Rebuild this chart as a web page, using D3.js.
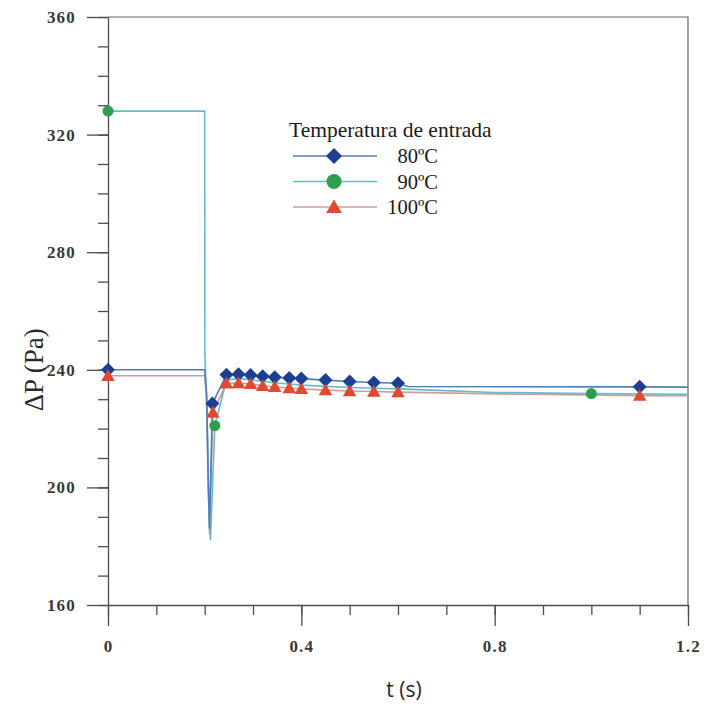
<!DOCTYPE html>
<html>
<head>
<meta charset="utf-8">
<script src="https://cdn.jsdelivr.net/npm/d3@7"></script>
<style>
  html, body { margin: 0; padding: 0; background: #fff; }
  svg { display: block; }
</style>
</head>
<body>
<svg id="chart" width="704" height="704"></svg>
<script>
// Pressure drop vs time for three inlet temperatures
const t80  = [0, 0.2, 0.204, 0.207, 0.21, 0.216, 0.245, 0.27, 0.295, 0.32, 0.345, 0.375, 0.40, 0.45, 0.50, 0.55, 0.60, 0.62, 1.1, 1.2];
const dp80 = [240, 240, 232, 205, 186, 228.5, 238.3, 238.5, 238.2, 237.8, 237.5, 237.2, 237.0, 236.5, 236.0, 235.7, 235.4, 234.3, 234.2, 234.1];
const mk80 = [0, 0.216, 0.245, 0.27, 0.295, 0.32, 0.345, 0.375, 0.40, 0.45, 0.50, 0.55, 0.60, 1.1];

const t90  = [0, 0.2, 0.2005, 0.205, 0.209, 0.212, 0.221, 0.245, 0.27, 0.30, 0.35, 0.40, 0.50, 0.60, 0.80, 1.0, 1.2];
const dp90 = [328, 328, 245, 225, 190, 182, 221, 236.5, 237, 236.5, 235.5, 234.8, 234.0, 233.5, 232.3, 231.9, 231.7];
const mk90 = [0, 0.221, 1.0];

const t100  = [0, 0.2, 0.204, 0.207, 0.21, 0.217, 0.245, 0.27, 0.295, 0.32, 0.345, 0.375, 0.40, 0.45, 0.50, 0.55, 0.60, 0.8, 1.1, 1.2];
const dp100 = [238, 238, 230, 205, 184, 225.5, 235.4, 235.5, 235.2, 234.6, 234.2, 233.8, 233.5, 233.1, 232.8, 232.6, 232.4, 231.8, 231.2, 231.2];
const mk100 = [0, 0.217, 0.245, 0.27, 0.295, 0.32, 0.345, 0.375, 0.40, 0.45, 0.50, 0.55, 0.60, 1.1];

const seriesNames = ["80ºC", "90ºC", "100ºC"];
const xMajor = [0, 0.4, 0.8, 1.2];
const yMajor = [160, 200, 240, 280, 320, 360];

const svg = d3.select("#chart");
const x = d3.scaleLinear().domain([0, 1.2]).range([108, 688]);
const y = d3.scaleLinear().domain([160, 360]).range([605, 17]);

const axisColor = "#4d4d4d";
const serif = "'Liberation Serif', 'Times New Roman', serif";

// frame (top and right)
svg.append("path")
  .attr("d", `M${x(0)},${y(360)}H${x(1.2)}V${y(160)}`)
  .attr("fill", "none").attr("stroke", "#666").attr("stroke-width", 1.2);

// minor ticks
const xMinor = d3.range(0, 1.2001, 0.1).map(v => +v.toFixed(2));
const yMinor = d3.range(160, 360.001, 10);
svg.append("g").attr("transform", `translate(0,${y(160)})`)
  .call(d3.axisBottom(x).tickValues(xMinor).tickSize(10).tickFormat(""))
  .call(g => g.select(".domain").remove());
svg.append("g").attr("transform", `translate(${x(0)},0)`)
  .call(d3.axisLeft(y).tickValues(yMinor).tickSize(10).tickFormat(""))
  .call(g => g.select(".domain").remove());

// major axes
svg.append("g").attr("transform", `translate(0,${y(160)})`)
  .call(d3.axisBottom(x).tickValues(xMajor).tickSize(21).tickSizeOuter(0).tickPadding(14)
    .tickFormat(d => d === 0 ? "0" : d3.format(".1f")(d)));
svg.append("g").attr("transform", `translate(${x(0)},0)`)
  .call(d3.axisLeft(y).tickValues(yMajor).tickSize(21).tickSizeOuter(0).tickPadding(11));

svg.selectAll(".tick line, .domain").attr("stroke", axisColor).attr("stroke-width", 1.3);
svg.selectAll(".tick text")
  .attr("font-family", serif).attr("font-size", 17).attr("font-weight", 600)
  .attr("letter-spacing", 1.2).attr("fill", "#383838");

// axis titles
svg.append("text")
  .attr("transform", `translate(43,${y(240)}) rotate(-90)`)
  .attr("text-anchor", "middle")
  .attr("font-family", serif).attr("font-size", 27).attr("fill", "#2a2a2a")
  .text("ΔP (Pa)");
svg.append("text")
  .attr("x", 404).attr("y", 697)
  .attr("text-anchor", "middle")
  .attr("font-family", "'Open Sans', 'DejaVu Sans', sans-serif").attr("font-size", 21).attr("fill", "#2a2a2a")
  .text("t (s)");

// series
const series = [
  { t: t80, p: dp80, mk: mk80, line: "#4f7fb8", fill: "#1d3f93", shape: "diamond" },
  { t: t90, p: dp90, mk: mk90, line: "#62bccb", fill: "#2f9d4e", shape: "circle" },
  { t: t100, p: dp100, mk: mk100, line: "#d49b9b", fill: "#e04a33", shape: "triangle" }
];

const line = d3.line().x(d => x(d[0])).y(d => y(d[1]));

function shapePath(shape, s) {
  if (shape === "diamond") return `M0,${-s}L${s},0L0,${s}L${-s},0Z`;
  if (shape === "triangle") return `M0,${-s}L${s * 1.05},${s * 0.8}L${-s * 1.05},${s * 0.8}Z`;
  return d3.symbol(d3.symbolCircle, Math.PI * s * s)();
}
const markerSize = { diamond: 7, circle: 5.5, triangle: 6.5 };

// lines: red, teal, blue
[2, 1, 0].forEach(i => {
  const s = series[i];
  svg.append("path")
    .datum(s.t.map((v, k) => [v, s.p[k]]))
    .attr("d", line)
    .attr("fill", "none")
    .attr("stroke", s.line)
    .attr("stroke-width", 1.6);
});

// markers: green, blue, red
[1, 0, 2].forEach(i => {
  const s = series[i];
  const pts = s.mk.map(tm => [tm, s.p[s.t.indexOf(tm)]]);
  svg.append("g").selectAll("path").data(pts).join("path")
    .attr("transform", d => `translate(${x(d[0])},${y(d[1])})`)
    .attr("d", shapePath(s.shape, markerSize[s.shape]))
    .attr("fill", s.fill);
});

// legend
const lg = svg.append("g");
lg.append("text").attr("x", 289).attr("y", 137)
  .attr("font-family", serif).attr("font-size", 21.5).attr("fill", "#1a1a1a")
  .text("Temperatura de entrada");
const legendSize = { diamond: 8, circle: 7.5, triangle: 7.5 };
series.forEach((s, i) => {
  const ly = 156 + i * 25.5;
  lg.append("line").attr("x1", 293).attr("x2", 377).attr("y1", ly).attr("y2", ly)
    .attr("stroke", s.line).attr("stroke-width", 1.6);
  lg.append("path").attr("transform", `translate(334,${ly})`)
    .attr("d", shapePath(s.shape, legendSize[s.shape]))
    .attr("fill", s.fill);
  lg.append("text").attr("x", 438).attr("y", ly + 7)
    .attr("text-anchor", "end")
    .attr("font-family", serif).attr("font-size", 20.5).attr("fill", "#1a1a1a")
    .text(seriesNames[i]);
});
</script>
</body>
</html>
